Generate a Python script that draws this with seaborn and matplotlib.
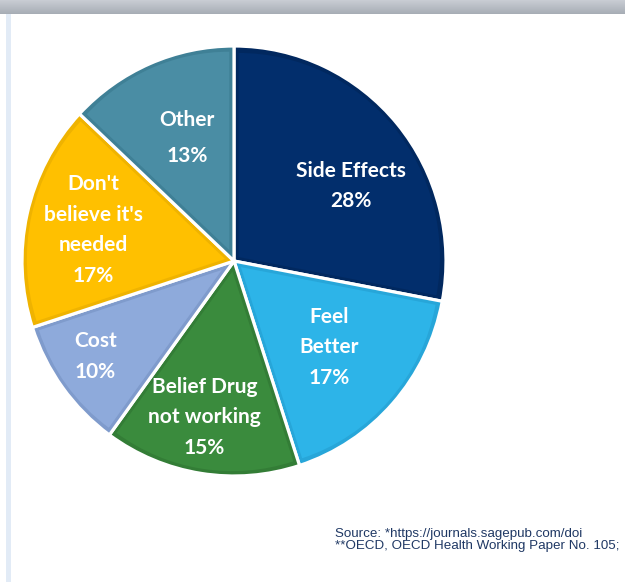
import numpy as np
import matplotlib
matplotlib.use("Agg")
import matplotlib.pyplot as plt
from matplotlib.patches import Wedge
import seaborn as sns

# Reasons for not taking medication (share of respondents, %)
reasons = ["Side Effects", "Feel\nBetter", "Belief Drug\nnot working", "Cost",
           "Don't\nbelieve it's\nneeded", "Other"]
shares = [28, 17, 15, 10, 17, 13]
colors = ["#022e6c", "#2db4e8", "#3a8b3d", "#8eaadb", "#ffc000", "#4a8da4"]
rim_colors = ["#01285f", "#27a6d9", "#337d36", "#7f9bcc", "#efb300", "#3f8096"]
# label centres, in units of the pie radius
label_x = [0.551, 0.449, -0.140, -0.654, -0.664, -0.220]
label_y = [0.348, -0.402, -0.727, -0.444, 0.145, 0.572]
label_ls = [1.66, 1.66, 1.66, 1.66, 1.66, 1.95]
source_lines = ["Source: *https://journals.sagepub.com/doi",
                "**OECD, OECD Health Working Paper No. 105;"]

sns.set_theme(style="white")
plt.rcParams['font.family'] = ['Lato', 'DejaVu Sans']

W, H = 625, 582
fig = plt.figure(figsize=(W / 100, H / 100), dpi=100)
fig.patch.set_facecolor("white")

# grey header bar
bar = fig.add_axes([0, 1 - 14 / H, 1, 14 / H])
grad = np.linspace(0, 1, 50)[:, None] * np.ones((1, 200))
bar.imshow(grad, aspect="auto", cmap=matplotlib.colors.LinearSegmentedColormap.from_list(
    "g", ["#c9cdd4", "#a7adb5"]), extent=[0, 1, 0, 1])
bar.axis("off")

# light blue strip on the left
strip = fig.add_axes([6 / W, 0, 5 / W, 1 - 14 / H])
strip.set_facecolor("#e2ebf6")
strip.set_xticks([])
strip.set_yticks([])
for s in strip.spines.values():
    s.set_visible(False)

# pie axes (slightly taller than wide, as in the original)
rx, ry = 212, 215
lim = 1.05
cx, cy = 234, H - 261
ax = fig.add_axes([(cx - lim * rx) / W, (cy - lim * ry) / H,
                   2 * lim * rx / W, 2 * lim * ry / H])

wedges, _ = ax.pie(shares, colors=rim_colors, startangle=90, counterclock=False,
                   wedgeprops=dict(edgecolor="white", linewidth=2.3))

# inner fill, inset from the rim to give the bevelled border
d = 0.022
for w, c in zip(wedges, colors):
    half = np.deg2rad(w.theta2 - w.theta1) / 2
    mid = np.deg2rad(w.theta1 + w.theta2) / 2
    shift = d / np.sin(half)
    ax.add_patch(Wedge((shift * np.cos(mid), shift * np.sin(mid)), 1 - d - shift,
                       w.theta1, w.theta2, facecolor=c, edgecolor="none"))

for lab, v, x, y, ls in zip(reasons, shares, label_x, label_y, label_ls):
    ax.text(x, y, f"{lab}\n{v}%", ha="center", va="center",
            color="white", fontsize=15, fontweight="bold", linespacing=ls)

ax.set_xlim(-lim, lim)
ax.set_ylim(-lim, lim)
ax.set_aspect("auto")
ax.axis("off")

fig.text(335 / W, 1 - 540 / H, "\n".join(source_lines), ha="left", va="center",
         fontsize=9.6, color="#1f3864", family=["Liberation Sans", "DejaVu Sans"],
         linespacing=1.05)

fig.savefig("out.png", dpi=100)
